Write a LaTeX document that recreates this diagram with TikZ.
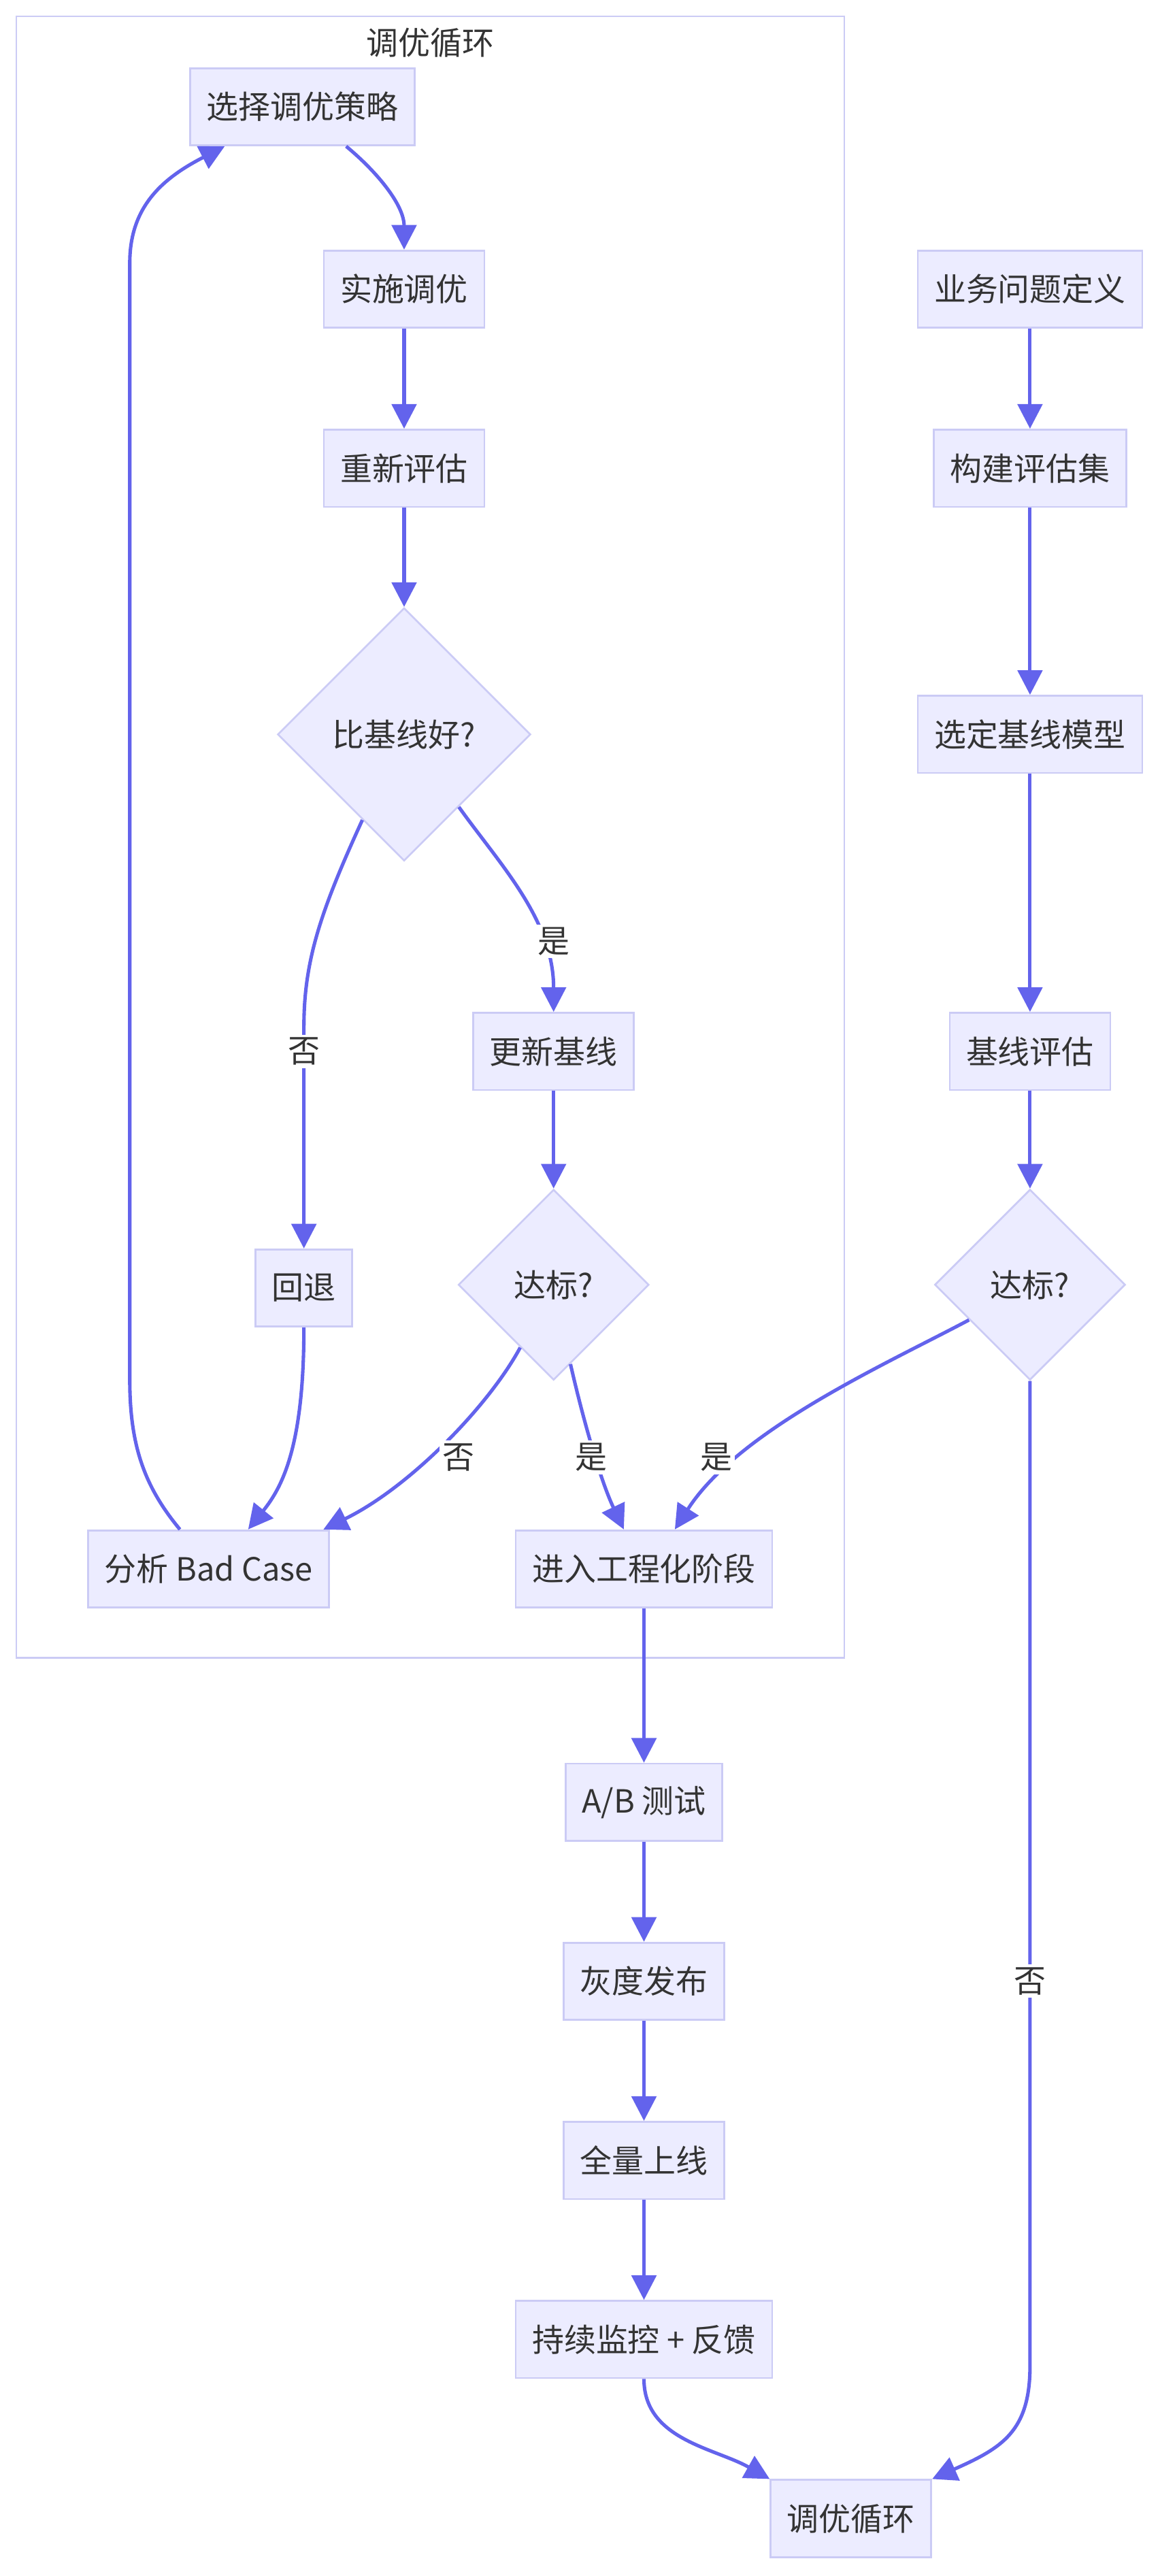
\documentclass[tikz,border=0pt]{standalone}
\usepackage{fontspec}
\setmainfont{Noto Sans CJK SC}
\usetikzlibrary{shapes.geometric,arrows.meta}

\definecolor{nodefill}{HTML}{ECECFF}
\definecolor{nodeline}{HTML}{CBCBF5}
\definecolor{flowline}{HTML}{6363EC}
\definecolor{inktext}{HTML}{333333}
\newcommand{\cjksize}{\fontsize{16.6}{20}\selectfont}

\tikzstyle {box} = [draw=nodeline, fill=nodefill, line width=0.95pt, text=inktext, minimum height=1.41cm, inner xsep=0.3cm, font=\cjksize]
\tikzstyle {decision} = [box, diamond, aspect=1, inner sep=0pt]
\tikzstyle {flow} = [draw=flowline, line width=1.8pt, -{Triangle[length=0.45cm,width=0.45cm]}]
\tikzstyle {tag} = [fill=white, text=inktext, inner sep=1.5pt, font=\cjksize]
\tikzstyle {cluster} = [draw=nodeline, line width=0.95pt]

\begin{document}
\begin{tikzpicture}[x=0.03cm, y=-0.03cm]
            \useasboundingbox (0,0) rectangle (706,1568);
            \draw [cluster] (10,10) rectangle (514,1009);
            \node [text=inktext, font=\cjksize] (looptitle) at (262,26) {调优循环};

            \node [box] (choose) at (184,65) {选择调优策略};
            \node [box] (apply) at (246,176) {实施调优};
            \node [box] (reeval) at (246,285) {重新评估};
            \node [decision, minimum size=4.62cm] (better) at (246,447) {比基线好?};
            \node [box] (update) at (337,640) {更新基线};
            \node [decision, minimum size=3.48cm] (lgoal) at (337,782) {达标?};
            \node [box] (fallback) at (185,784) {回退};
            \node [box] (analyze) at (127,955) {分析 Bad Case};
            \node [box] (engine) at (392,955) {进入工程化阶段};

            \node [box] (biz) at (627,176) {业务问题定义};
            \node [box] (evalset) at (627,285) {构建评估集};
            \node [box] (baseline) at (627,447) {选定基线模型};
            \node [box] (beval) at (627,640) {基线评估};
            \node [decision, minimum size=3.48cm] (rgoal) at (627,782) {达标?};

            \node [box] (abtest) at (392,1097) {A/B 测试};
            \node [box] (gray) at (392,1206) {灰度发布};
            \node [box] (full) at (392,1315) {全量上线};
            \node [box] (monitor) at (392,1424) {持续监控 + 反馈};
            \node [box] (tuneloop) at (518,1533) {调优循环};

            \foreach \a/\b in {apply/reeval, reeval/better, update/lgoal, biz/evalset, evalset/baseline, baseline/beval, beval/rgoal, engine/abtest, abtest/gray, gray/full, full/monitor}
                \draw [flow] (\a) -- (\b);

            \draw [flow] (choose.-42) .. controls (230,105) and (246,125) .. (apply.north);
            \draw [flow] (better.244) .. controls (195,555) and (185,585) .. (185,625) -- (fallback);
            \draw [flow] (better.-53) .. controls (305,527) and (337,560) .. (update.north);
            \draw [flow] (lgoal.242) .. controls (298,855) and (250,905) .. (analyze.19);
            \draw [flow] (lgoal.-78) .. controls (354,860) and (365,900) .. (engine.117);
            \draw [flow] (fallback) .. controls (185,880) and (172,905) .. (analyze.45);
            \draw [flow] (analyze.126) .. controls (88,905) and (79,880) .. (79,840) -- (79,160) .. controls (79,125) and (100,108) .. (choose.207);
            \draw [flow] (rgoal.210) .. controls (540,830) and (450,870) .. (engine.52);
            \draw [flow] (rgoal) -- (627,1440) .. controls (627,1480) and (610,1490) .. (tuneloop.north east);
            \draw [flow] (monitor) .. controls (392,1485) and (435,1490) .. (tuneloop.north west);

            \node [tag] (nobetter) at (185,640) {否};
            \node [tag] (yesbetter) at (337,573) {是};
            \node [tag] (nolgoal) at (279,887) {否};
            \node [tag] (yeslgoal) at (360,887) {是};
            \node [tag] (yesrgoal) at (436,887) {是};
            \node [tag] (norgoal) at (627,1206) {否};
        \end{tikzpicture}
\end{document}
